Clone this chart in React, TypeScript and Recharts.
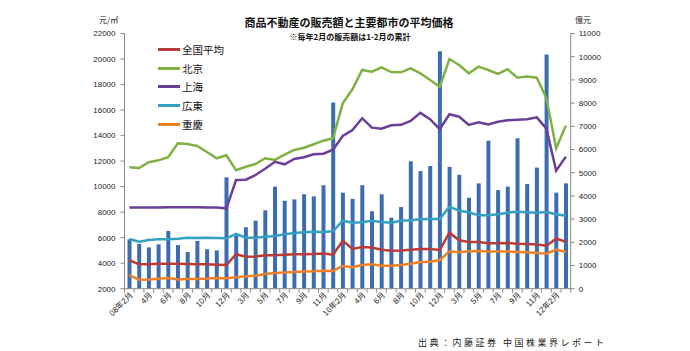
import { ComposedChart, Bar, Line, XAxis, YAxis, Legend } from 'recharts'

// 月次カテゴリ（2008年2月〜2012年3月、毎年2月は1-2月累計）
const categories = [
  '08年2月', '08年3月', '08年4月', '08年5月', '08年6月', '08年7月', '08年8月', '08年9月', '08年10月', '08年11月', '08年12月',
  '09年2月', '09年3月', '09年4月', '09年5月', '09年6月', '09年7月', '09年8月', '09年9月', '09年10月', '09年11月', '09年12月',
  '10年2月', '10年3月', '10年4月', '10年5月', '10年6月', '10年7月', '10年8月', '10年9月', '10年10月', '10年11月', '10年12月',
  '11年2月', '11年3月', '11年4月', '11年5月', '11年6月', '11年7月', '11年8月', '11年9月', '11年10月', '11年11月', '11年12月',
  '12年2月', '12年3月',
]

const tickLabels = [
  '08年2月', '', '4月', '', '6月', '', '8月', '', '10月', '', '12月',
  '', '3月', '', '5月', '', '7月', '', '9月', '', '11月', '',
  '10年2月', '', '4月', '', '6月', '', '8月', '', '10月', '', '12月',
  '', '3月', '', '5月', '', '7月', '', '9月', '', '11月', '',
  '12年2月', '',
]

// 販売額（億元、右軸）
const sales = [
  2130, 1930, 1780, 1910, 2490, 1880, 1580, 2060, 1700, 1650, 4800,
  2310, 2650, 2930, 3380, 4400, 3790, 3850, 4070, 3980, 4460, 8030,
  4140, 3870, 4460, 3340, 4070, 3060, 3520, 5490, 5070, 5290, 10230,
  5250, 4910, 3920, 4540, 6380, 4250, 4400, 6480, 4510, 5220, 10100,
  4140, 4540,
]

// 平均価格（元/㎡、左軸）
const national = [
  4230, 3910, 3910, 3960, 3960, 3960, 3930, 3910, 3910, 3880, 3860,
  4700, 4510, 4530, 4620, 4620, 4670, 4700, 4700, 4720, 4750, 4670,
  5760, 5110, 5270, 5220, 5060, 4980, 4990, 5060, 5110, 5110, 5030,
  6390, 5790, 5660, 5660, 5560, 5560, 5580, 5530, 5500, 5460, 5370,
  5920, 5680,
]
const beijing = [
  11510, 11460, 11910, 12060, 12300, 13400, 13340, 13180, 12710, 12220, 12460,
  11280, 11560, 11770, 12220, 12090, 12500, 12870, 13050, 13320, 13600, 13800,
  16530, 17630, 19140, 19010, 19350, 18980, 18960, 19270, 18880, 18360, 17830,
  20000, 19530, 18880, 19400, 19140, 18830, 19200, 18540, 18620, 18540, 16920,
  13000, 14780,
]
const shanghai = [
  8370, 8370, 8370, 8370, 8380, 8380, 8380, 8380, 8370, 8370, 8300,
  10520, 10540, 10910, 11400, 11950, 11750, 12170, 12300, 12530, 12580, 12900,
  13970, 14440, 15360, 14620, 14540, 14810, 14840, 15150, 15780, 15290, 14500,
  15670, 15480, 14830, 15040, 14880, 15090, 15200, 15240, 15280, 15430, 14540,
  11250, 12350,
]
const guangdong = [
  5900, 5680, 5820, 5870, 5870, 5920, 6000, 5970, 6000, 5970, 5950,
  6290, 6000, 6000, 6080, 6130, 6260, 6370, 6420, 6470, 6450, 6500,
  7330, 7170, 7200, 7330, 7230, 7170, 7330, 7360, 7440, 7460, 7460,
  8430, 8110, 7990, 7750, 7750, 7830, 7960, 8030, 7990, 7960, 8010,
  7830, 7720,
]
const chongqing = [
  3070, 2710, 2730, 2780, 2840, 2730, 2760, 2760, 2790, 2840, 2810,
  2890, 2970, 3020, 3150, 3230, 3260, 3310, 3340, 3360, 3410, 3390,
  3780, 3680, 3860, 3910, 3800, 3800, 3860, 3960, 4090, 4120, 4250,
  4930, 4850, 4930, 4960, 4910, 4910, 4910, 4880, 4850, 4800, 4740,
  5060, 4880,
]

const leftTicks = [2000, 4000, 6000, 8000, 10000, 12000, 14000, 16000, 18000, 20000, 22000]
const rightTicks = [0, 1000, 2000, 3000, 4000, 5000, 6000, 7000, 8000, 9000, 10000, 11000]

const series = [
  { key: 'national', name: '全国平均', color: '#BA3A35' },
  { key: 'beijing', name: '北京', color: '#7FB143' },
  { key: 'shanghai', name: '上海', color: '#6B3F97' },
  { key: 'guangdong', name: '広東', color: '#33A2C2' },
  { key: 'chongqing', name: '重慶', color: '#F08024' },
]

const data = categories.map((c, i) => ({
  month: c,
  sales: sales[i],
  national: national[i],
  beijing: beijing[i],
  shanghai: shanghai[i],
  guangdong: guangdong[i],
  chongqing: chongqing[i],
}))

const FONT = '"Liberation Sans", "Noto Sans CJK JP", sans-serif'
const JP = '"Noto Sans CJK JP", sans-serif'
const AXIS = '#8a8a8a'

const XTick = (props: any) => {
  const { x, y, index, payload } = props
  const half = payload?.offset || 4.85
  const label = tickLabels[index]
  const last = index === categories.length - 1
  return (
    <g>
      <line x1={x - half} x2={x - half} y1={y} y2={y + 4} stroke={AXIS} />
      {last && <line x1={x + half} x2={x + half} y1={y} y2={y + 4} stroke={AXIS} />}
      {label && (
        <text
          x={x + 4}
          y={y + 7}
          transform={`rotate(-45, ${x + 4}, ${y + 7})`}
          textAnchor="end"
          fontSize={8}
          fontFamily={FONT}
          fill="#222"
        >
          {label}
        </text>
      )}
    </g>
  )
}

const renderLegend = () => (
  <div style={{ fontFamily: JP }}>
    {series.map((s) => (
      <div key={s.key} style={{ display: 'flex', alignItems: 'center', height: 18.8 }}>
        <span style={{ width: 22, height: 3, background: s.color, marginRight: 2 }} />
        <span style={{ fontSize: 10.5, color: '#111' }}>{s.name}</span>
      </div>
    ))}
  </div>
)

export default function App() {
  return (
    <div style={{ position: 'absolute', left: 0, top: 0, width: 690, height: 351, background: '#fff', fontFamily: FONT }}>
      <ComposedChart width={690} height={351} data={data} margin={{ top: 33.5, right: 0, bottom: 0, left: 0 }}>
        <XAxis
          dataKey="month"
          interval={0}
          height={62.3}
          tickLine={false}
          tickSize={0}
          tickMargin={0}
          stroke={AXIS}
          tick={<XTick />}
        />
        <YAxis
          yAxisId="left"
          orientation="left"
          width={124.5}
          domain={[2000, 22000]}
          ticks={leftTicks}
          tickSize={4}
          tickMargin={5}
          stroke={AXIS}
          tick={{ fontSize: 8, fill: '#222', fontFamily: FONT }}
        />
        <YAxis
          yAxisId="right"
          orientation="right"
          width={119.3}
          domain={[0, 11000]}
          ticks={rightTicks}
          tickSize={4}
          tickMargin={4}
          stroke={AXIS}
          tick={{ fontSize: 8, fill: '#222', fontFamily: FONT }}
        />
        <Legend
          layout="vertical"
          align="center"
          verticalAlign="middle"
          content={renderLegend}
          wrapperStyle={{ left: 158, top: 40, width: 80 }}
        />
        {series.map((s) => (
          <Line
            key={s.key}
            yAxisId="left"
            type="linear"
            dataKey={s.key}
            name={s.name}
            stroke={s.color}
            strokeWidth={2.5}
            dot={false}
            isAnimationActive={false}
          />
        ))}
        <Bar yAxisId="right" dataKey="sales" name="販売額" fill="#3D6CB0" barSize={4} isAnimationActive={false} />
      </ComposedChart>

      <div style={{ position: 'absolute', left: 0, width: 690, top: 16, textAlign: 'center', paddingLeft: 4, fontFamily: JP, fontWeight: 'bold', fontSize: 11, lineHeight: '12px', color: '#111' }}>
        商品不動産の販売額と主要都市の平均価格
      </div>
      <div style={{ position: 'absolute', left: 0, width: 690, top: 31.5, textAlign: 'center', paddingLeft: 5, fontFamily: JP, fontWeight: 'bold', fontSize: 8, lineHeight: '10px', color: '#111' }}>
        ※毎年2月の販売額は1-2月の累計
      </div>
      <div style={{ position: 'absolute', left: 99, top: 14, fontFamily: JP, fontSize: 8, lineHeight: '12px', color: '#222' }}>元/㎡</div>
      <div style={{ position: 'absolute', left: 575, top: 14, fontFamily: JP, fontSize: 8, lineHeight: '12px', color: '#222' }}>億元</div>
      <div style={{ position: 'absolute', left: 418, top: 335, fontFamily: JP, fontSize: 9, lineHeight: '16px', letterSpacing: 2.5, color: '#222' }}>
        出典：内藤証券 中国株業界レポート
      </div>
    </div>
  )
}
